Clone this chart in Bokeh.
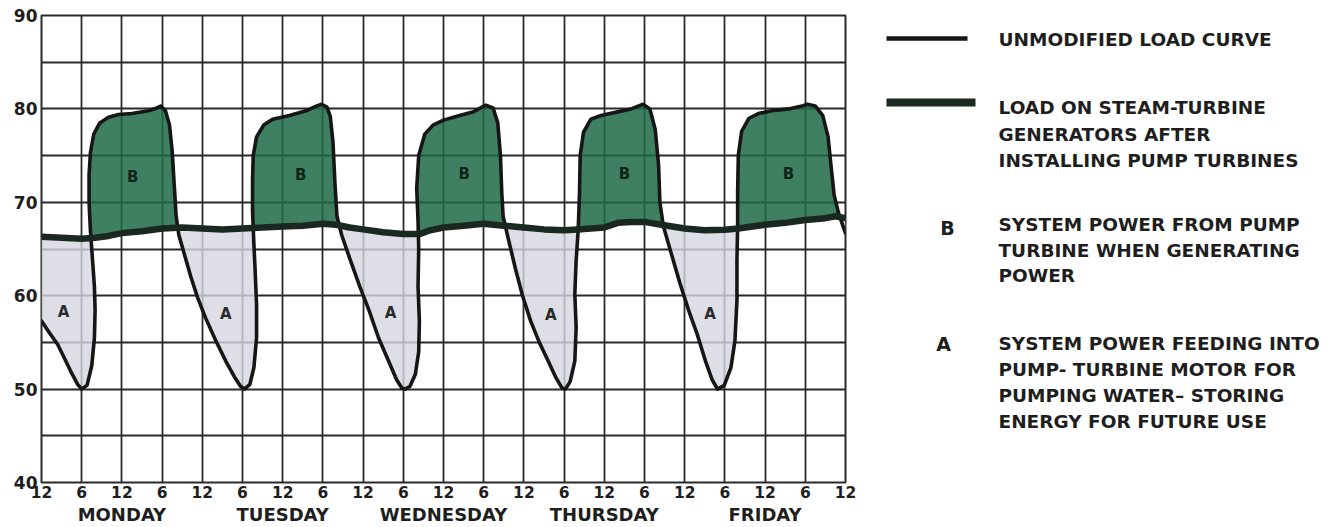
import numpy as np
from bokeh.plotting import figure
from bokeh.models import Range1d, FixedTicker, LinearAxis
from bokeh.layouts import row, column
from bokeh.core.properties import value
from bokeh.embed import file_html
from bokeh.resources import INLINE

# ---------------- data ----------------
hour_ticks = [0, 6, 12, 18, 24, 30, 36, 42, 48, 54, 60, 66, 72, 78, 84, 90, 96, 102, 108, 114, 120]
hour_tick_labels = ["12", "6", "12", "6", "12", "6", "12", "6", "12", "6", "12",
                    "6", "12", "6", "12", "6", "12", "6", "12", "6", "12"]
days = ["MONDAY", "TUESDAY", "WEDNESDAY", "THURSDAY", "FRIDAY"]
day_centers = [12, 36, 60, 84, 108]
y_ticks = [40, 50, 60, 70, 80, 90]
y_grid = [40, 45, 50, 55, 60, 65, 70, 75, 80, 85, 90]

# unmodified load curve (hand-drawn, traced)
curve_hours = [0, 1.2, 2.4, 3.5, 4.5, 5.4, 6.0, 6.8, 7.5, 7.9, 8.0, 7.9, 7.6, 7.3, 7.1, 7.1, 7.3, 7.8, 8.7, 10.0,
               11.5, 13.5, 16.0, 17.2, 17.8, 18.5, 19.1, 19.5, 19.8, 20.1, 20.5, 21.3, 22.3, 23.3, 24.5, 26.0,
               27.5, 28.8, 29.7, 30.3, 31.1, 31.7, 32.1, 32.1, 31.9, 31.7, 31.5, 31.5, 31.6, 32.1, 33.2, 34.5,
               37.0, 39.5, 41.0, 41.8, 42.6, 43.1, 43.5, 43.8, 44.1, 44.8, 46.0, 47.5, 48.9, 50.3, 51.8, 53.0,
               53.8, 54.3, 55.0, 55.8, 56.3, 56.4, 56.2, 56.3, 56.2, 56.0, 56.3, 57.2, 58.5, 60.0, 62.4, 64.5,
               66.3, 67.4, 68.1, 68.5, 68.7, 68.9, 69.6, 70.7, 71.8, 73.0, 74.3, 75.5, 76.8, 77.7, 78.2, 78.9,
               79.6, 79.8, 79.6, 79.8, 80.1, 80.3, 80.4, 80.9, 82.0, 83.5, 85.5, 88.0, 89.8, 90.8, 91.6, 92.1,
               92.3, 92.8, 93.8, 95.3, 96.6, 97.9, 99.1, 100.1, 100.9, 101.9, 102.9, 103.5, 103.8, 103.8, 103.9,
               103.9, 104.0, 104.5, 105.6, 107.0, 109.0, 111.5, 113.5, 114.3, 115.5, 116.6, 117.4, 117.9, 118.3,
               118.9, 119.6, 120.0]
curve_values = [57.3, 56.0, 54.8, 53.2, 51.7, 50.5, 50.0, 50.4, 52.5, 55.5, 58.5, 61.0, 64.0, 67.0, 70.0, 73.0,
                75.3, 77.3, 78.5, 79.1, 79.4, 79.5, 79.8, 80.1, 80.3, 79.8, 78.3, 75.5, 72.0, 68.5, 66.5, 64.5,
                62.0, 59.8, 57.6, 55.2, 53.0, 51.3, 50.3, 50.0, 50.5, 52.3, 55.5, 59.0, 62.5, 65.5, 69.0, 72.5,
                75.0, 77.0, 78.3, 78.9, 79.3, 79.8, 80.3, 80.5, 80.2, 79.2, 76.5, 72.0, 68.5, 66.5, 64.0, 61.0,
                58.4, 55.5, 53.0, 51.0, 50.1, 50.0, 50.3, 51.6, 54.0, 57.3, 61.0, 65.0, 68.0, 71.5, 75.0, 77.3,
                78.3, 78.8, 79.3, 79.7, 80.4, 80.1, 78.5, 75.0, 71.0, 68.5, 66.3, 63.0, 60.0, 57.3, 55.0, 53.2,
                51.2, 50.1, 50.0, 50.8, 53.0, 56.6, 60.2, 63.8, 67.0, 71.0, 75.0, 77.5, 78.9, 79.3, 79.6, 80.0,
                80.5, 80.0, 77.8, 74.0, 70.0, 67.5, 65.0, 61.3, 58.4, 55.8, 53.0, 51.0, 50.0, 50.4, 52.3, 55.2,
                59.5, 63.8, 67.4, 71.0, 75.0, 77.6, 79.0, 79.5, 79.8, 80.0, 80.3, 80.5, 80.3, 79.3, 77.0, 73.5,
                70.8, 69.0, 67.5, 66.7]

# load on steam-turbine generators after installing pump turbines
steam_hours = [0, 3, 6, 8, 10, 12, 15, 18, 21, 24, 27, 30, 33, 36, 39, 42, 44, 46, 48, 51, 54, 56.5, 58, 60,
               63, 66, 69, 72, 75, 78, 80, 82, 84, 86, 88, 90, 92.5, 96, 99, 102, 104, 108, 111, 114, 117,
               118.5, 120]
steam_values = [66.3, 66.2, 66.1, 66.2, 66.4, 66.7, 66.9, 67.2, 67.3, 67.2, 67.1, 67.2, 67.3, 67.4, 67.5,
                67.7, 67.6, 67.3, 67.1, 66.8, 66.6, 66.6, 67.0, 67.3, 67.5, 67.7, 67.5, 67.3, 67.1, 67.0,
                67.1, 67.2, 67.3, 67.8, 67.9, 67.9, 67.6, 67.2, 67.0, 67.05, 67.2, 67.6, 67.8, 68.1, 68.3,
                68.5, 68.3]

# region letters (annotations)
b_label_hours = [13.6, 38.7, 63.1, 87.0, 111.5]
b_label_values = [72.7, 72.9, 73.0, 73.0, 73.0]
a_label_hours = [3.3, 27.5, 52.1, 76.0, 99.8]
a_label_values = [58.3, 58.0, 58.1, 57.9, 58.0]

legend_line1 = ["UNMODIFIED LOAD CURVE"]
legend_line2 = ["LOAD ON STEAM-TURBINE", "GENERATORS AFTER", "INSTALLING PUMP TURBINES"]
legend_b = ["SYSTEM POWER FROM PUMP", "TURBINE  WHEN GENERATING", "POWER"]
legend_a = ["SYSTEM POWER FEEDING INTO", "PUMP- TURBINE MOTOR FOR", "PUMPING WATER\u2013 STORING",
            "ENERGY FOR FUTURE USE"]

# ---------------- styles / layout ----------------
FONT = "DejaVu Sans"
INK = "#1e1e1e"
GRID = "#2a2a2a"
GREEN = "#1f6a47"
LAVENDER = "#d6d6e0"
THICK = "#1b2820"

MAIN_W, H = 860, 527
LEG_W = 1327 - MAIN_W

# ---------------- build fill polygons from the two curves ----------------
ch = np.array(curve_hours, dtype=float)
cv = np.array(curve_values, dtype=float)
sh = np.array(steam_hours, dtype=float)
sv = np.array(steam_values, dtype=float)


def steam_at(h):
    return float(np.interp(h, sh, sv))


d = cv - np.interp(ch, sh, sv)
segments = []
cur_x, cur_y = [ch[0]], [cv[0]]
start_h = ch[0]
sign = np.sign(d[0])
for i in range(1, len(ch)):
    s = np.sign(d[i])
    if s != 0 and s != sign:
        t = d[i - 1] / (d[i - 1] - d[i])
        hx = ch[i - 1] + t * (ch[i] - ch[i - 1])
        hy = cv[i - 1] + t * (cv[i] - cv[i - 1])
        cur_x.append(hx)
        cur_y.append(hy)
        segments.append((sign, cur_x, cur_y, start_h, hx))
        cur_x, cur_y = [hx], [hy]
        start_h = hx
        sign = s
    cur_x.append(ch[i])
    cur_y.append(cv[i])
segments.append((sign, cur_x, cur_y, start_h, ch[-1]))

green_xs, green_ys, lav_xs, lav_ys = [], [], [], []
for sgn, xs, ys, h0, h1 in segments:
    lo, hi = min(h0, h1), max(h0, h1)
    knots = [k for k in sh if lo < k < hi]
    back = [hi] + sorted(knots, reverse=True) + [lo]
    px = list(xs) + back
    py = list(ys) + [steam_at(k) for k in back]
    if sgn > 0:
        green_xs.append(px)
        green_ys.append(py)
    else:
        lav_xs.append(px)
        lav_ys.append(py)

# ---------------- main chart ----------------
p = figure(width=MAIN_W, height=H, output_backend="svg", toolbar_location=None,
           x_range=Range1d(0, 120), y_range=Range1d(40, 90),
           min_border_left=41, min_border_right=15, min_border_top=15, min_border_bottom=45)
p.background_fill_color = "white"
p.border_fill_color = "white"
p.outline_line_color = GRID
p.outline_line_width = 2

p.xgrid.ticker = FixedTicker(ticks=hour_ticks)
p.ygrid.ticker = FixedTicker(ticks=y_grid)
for g in (p.xgrid, p.ygrid):
    g.grid_line_color = GRID
    g.grid_line_width = 1.8
    g.grid_line_alpha = 1.0

p.xaxis.ticker = FixedTicker(ticks=hour_ticks)
p.xaxis.major_label_overrides = {h: lab for h, lab in zip(hour_ticks, hour_tick_labels)}
p.yaxis.ticker = FixedTicker(ticks=y_ticks)

day_axis = LinearAxis(ticker=FixedTicker(ticks=day_centers),
                      major_label_overrides={c: n for c, n in zip(day_centers, days)})
p.add_layout(day_axis, "below")

for ax in (p.xaxis[0], p.yaxis[0], day_axis):
    ax.axis_line_color = None
    ax.major_tick_line_color = None
    ax.minor_tick_line_color = None
    ax.major_tick_out = 0
    ax.major_tick_in = 0
    ax.minor_tick_out = 0
    ax.minor_tick_in = 0
    ax.major_label_text_font = FONT
    ax.major_label_text_font_style = "bold"
    ax.major_label_text_color = INK
p.xaxis[0].major_label_text_font_size = "15.5px"
p.xaxis[0].major_label_standoff = 3
p.yaxis[0].major_label_text_font_size = "17px"
p.yaxis[0].major_label_standoff = 4
day_axis.major_label_text_font_size = "18px"
day_axis.major_label_standoff = 3

p.patches(xs=lav_xs, ys=lav_ys, fill_color=LAVENDER, fill_alpha=0.8, line_color=None)
p.patches(xs=green_xs, ys=green_ys, fill_color=GREEN, fill_alpha=0.85, line_color=None)
p.line(curve_hours, curve_values, line_color="#161616", line_width=3.6,
       line_join="round", line_cap="round")
p.line(steam_hours, steam_values, line_color=THICK, line_width=6.5,
       line_join="round", line_cap="round")

p.text(x=b_label_hours, y=b_label_values, text=["B"] * len(b_label_hours),
       text_font=value(FONT), text_font_style="bold", text_font_size="15px",
       text_color="#10261a", text_align="center", text_baseline="middle")
p.text(x=a_label_hours, y=a_label_values, text=["A"] * len(a_label_hours),
       text_font=value(FONT), text_font_style="bold", text_font_size="15px",
       text_color="#2a2a2a", text_align="center", text_baseline="middle")

# ---------------- legend panel (picture pixel coordinates) ----------------
leg = figure(width=LEG_W, height=H, output_backend="svg", toolbar_location=None,
             x_range=Range1d(MAIN_W, MAIN_W + LEG_W), y_range=Range1d(H, 0),
             x_axis_location=None, y_axis_location=None, min_border=0)
leg.grid.visible = False
leg.outline_line_color = None
leg.background_fill_color = "white"
leg.border_fill_color = "white"

leg.line([886, 967], [38, 38], line_color="#161616", line_width=4.5)
leg.line([886, 975], [102, 102], line_color=THICK, line_width=8)

TX = 998


def put_lines(lines, y0, step):
    leg.text(x=[TX] * len(lines), y=[y0 + i * step for i in range(len(lines))], text=lines,
             text_font=value(FONT), text_font_style="bold", text_font_size="18.5px",
             text_color=INK, text_align="left", text_baseline="middle")


put_lines(legend_line1, 39, 26.5)
put_lines(legend_line2, 107, 26.5)
put_lines(legend_b, 224, 25.5)
put_lines(legend_a, 343, 26)

leg.text(x=[947, 943], y=[227, 343], text=["B", "A"],
         text_font=value(FONT), text_font_style="bold", text_font_size="19px",
         text_color=INK, text_align="center", text_baseline="middle")

layout = row(column(p), leg)
open("out.html", "w").write(file_html(layout, INLINE))
